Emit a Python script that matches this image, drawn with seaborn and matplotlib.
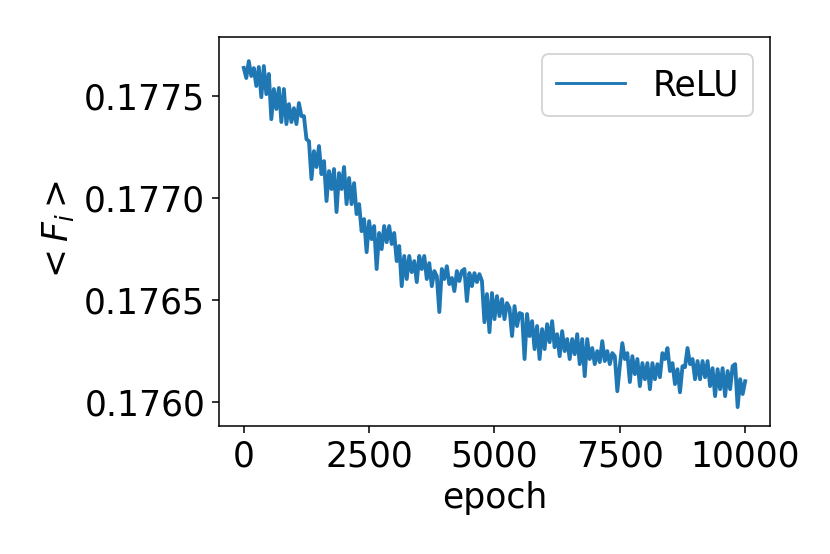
import numpy as np
import matplotlib
matplotlib.use("Agg")
import matplotlib.pyplot as plt
import seaborn as sns

# epoch grid (every 50 epochs)
epochs = list(range(0, 10001, 50))

# <F_i> in units of 1e-6
fi_micro = [
    177640, 177590, 177673, 177600, 177639, 177551, 177644, 177496, 177649, 177511,
    177610, 177388, 177536, 177438, 177541, 177374, 177536, 177364, 177462, 177374,
    177442, 177364, 177467, 177403, 177403, 177290, 177280, 177094, 177231, 177153,
    177256, 177118, 177182, 176986, 177133, 177045, 177143, 176932, 177123, 177045,
    177153, 176971, 177099, 176971, 177074, 176922, 176971, 176838, 176897, 176735,
    176887, 176799, 176863, 176652, 176829, 176750, 176863, 176784, 176863, 176775,
    176829, 176691, 176765, 176568, 176716, 176603, 176716, 176637, 176691, 176588,
    176716, 176652, 176716, 176603, 176681, 176568, 176642, 176617, 176441, 176652,
    176603, 176666, 176578, 176608, 176544, 176642, 176593, 176642, 176652, 176495,
    176632, 176568, 176632, 176588, 176627, 176593, 176391, 176529, 176342, 176534,
    176406, 176519, 176421, 176504, 176406, 176485, 176460, 176323, 176470, 176372,
    176436, 176431, 176210, 176431, 176323, 176396, 176259, 176372, 176210, 176357,
    176259, 176381, 176293, 176396, 176268, 176332, 176224, 176347, 176249, 176308,
    176210, 176308, 176234, 176332, 176185, 176308, 176126, 176308, 176210, 176264,
    176185, 176249, 176195, 176298, 176200, 176249, 176185, 176239, 176224, 176052,
    176175, 176288, 176210, 176239, 176097, 176224, 176136, 176210, 176077, 176190,
    176111, 176190, 176062, 176190, 176111, 176185, 176121, 176239, 176210, 176264,
    176151, 176190, 176087, 176160, 176047, 176175, 176170, 176264, 176185, 176210,
    176111, 176200, 176111, 176200, 176121, 176200, 176077, 176165, 176028, 176160,
    176062, 176165, 176028, 176151, 176062, 176175, 176185, 175974, 176111, 176038,
    176101,
]
fi = np.array(fi_micro) / 1e6

series_label = "ReLU"

plt.rcParams["font.size"] = 18
dpi = 138.4
fig, ax = plt.subplots(figsize=(830 / dpi, 554 / dpi), dpi=dpi)
fig.subplots_adjust(left=0.2635, right=0.928, top=0.933, bottom=0.231)

sns.lineplot(x=epochs, y=fi, label=series_label, ax=ax, color="#1f77b4", linewidth=2.0)

ax.ticklabel_format(axis="y", useOffset=False)
ax.set_xlim(-500, 10500)
ax.set_ylim(0.175881, 0.177791)
ax.set_xticks([0, 2500, 5000, 7500, 10000])
ax.set_yticks([0.1760, 0.1765, 0.1770, 0.1775])
ax.set_xlabel("epoch")
ax.set_ylabel(r"$<F_i>$")
leg = ax.legend(loc="upper right")
leg.get_lines()[0].set_linewidth(1.5)

fig.savefig("out.png", dpi=dpi)
